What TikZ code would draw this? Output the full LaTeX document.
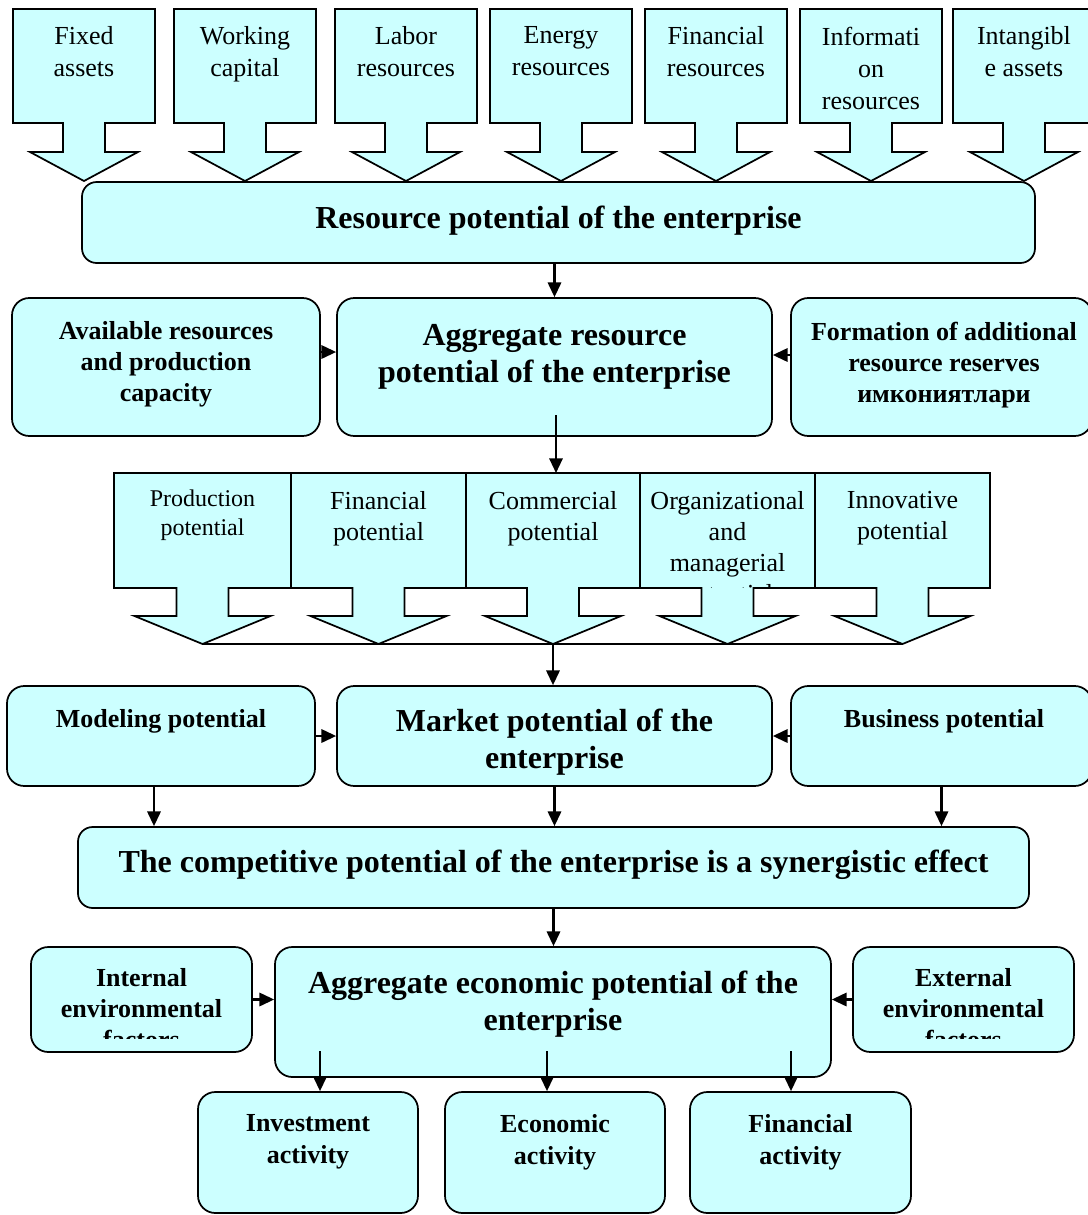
\documentclass[tikz,border=0pt]{standalone}
\usepackage{fontspec}
\setmainfont{Liberation Serif}
\usetikzlibrary{arrows.meta,calc,fit}
\definecolor{boxfill}{HTML}{CCFFFF}
% arrow-shaped text box: #1 left, #2 width, #3 top, #4 rect bottom, #5 stem half, #6 head half, #7 stem bottom, #8 tip y
\newcommand{\arrowbox}[8]{%
  \filldraw[cbox] (#1,#3) -- ({#1+#2},#3) -- ({#1+#2},#4) -- ({#1+#2/2+#5},#4) -- ({#1+#2/2+#5},#7)
    -- ({#1+#2/2+#6},#7) -- ({#1+#2/2},#8) -- ({#1+#2/2-#6},#7) -- ({#1+#2/2-#5},#7)
    -- ({#1+#2/2-#5},#4) -- (#1,#4) -- cycle;}
\tikzset{
  cbox/.style={draw=black, fill=boxfill, line width=1.3pt, line join=miter},
  rbox/.style={draw=black, fill=boxfill, line width=1.3pt, rounded corners=13pt, inner sep=0pt},
  arr/.style={line width=1.6pt, -{Triangle[length=11pt,width=10pt]}},
  ctext/.style={inner sep=0pt, anchor=north, align=center, font=\fontsize{19.5}{24}\selectfont, execute at begin node=\strut},
  ptext/.style={inner sep=0pt, anchor=north, align=center, font=\fontsize{19.5}{23.25}\selectfont, execute at begin node=\strut},
  prodtext/.style={inner sep=0pt, anchor=north, align=center, font=\fontsize{18}{21.75}\selectfont, execute at begin node=\strut},
  stext/.style={inner sep=0pt, anchor=north, align=center, font=\fontsize{19.5}{23.25}\selectfont\bfseries, execute at begin node=\strut},
  atext/.style={inner sep=0pt, anchor=north, align=center, font=\fontsize{19.5}{24.5}\selectfont\bfseries, execute at begin node=\strut},
  btext/.style={inner sep=0pt, anchor=north, align=center, font=\fontsize{24}{27.75}\selectfont\bfseries, execute at begin node=\strut}
}
\begin{document}
\begin{tikzpicture}[x=0.75pt,y=-0.75pt]
\useasboundingbox (0,0) rectangle (1088,1215);
\clip (0,0) rectangle (1088,1215);

% ---------- top resource callouts ----------
\arrowbox{13}{142}{9}{123}{21}{54}{152}{181}
\arrowbox{174}{142}{9}{123}{21}{54}{152}{181}
\arrowbox{335}{142}{9}{123}{21}{54}{152}{181}
\arrowbox{490}{142}{9}{123}{21}{54}{152}{181}
\arrowbox{645}{142}{9}{123}{21}{54}{152}{181}
\arrowbox{800}{142}{9}{123}{21}{54}{152}{181}
\arrowbox{953}{142}{9}{123}{21}{54}{152}{181}
\node[ctext] (r1) at (84,26.5) {Fixed\\assets};
\node[ctext] (r2) at (245,26.5) {Working\\capital};
\node[ctext] (r3) at (406,26.5) {Labor\\resources};
\node[ctext] (r4) at (561,26.5) {Energy\\resources};
\node[ctext] (r5) at (716,26.5) {Financial\\resources};
\node[ctext] (r6) at (871,26.5) {Informati\\on\\resources};
\node[ctext] (r7) at (1024,26.5) {Intangibl\\e assets};

% ---------- resource potential ----------
\node[rbox, rounded corners=11pt, fit={(82,182) (1035,263)}] (res) {};
\node[btext] (rest) at (558.5,202) {Resource potential of the enterprise};

% ---------- aggregate resource row ----------
\node[rbox, fit={(12,298) (320,436)}] (avail) {};
\node[rbox, fit={(337,298) (772,436)}] (aggr) {};
\node[rbox, fit={(791,298) (1092,436)}] (form) {};
\node[stext] (availt) at (166,321.5) {Available resources\\and production\\capacity};
\node[btext] (aggrt) at (554.5,324) {Aggregate resource\\potential of the enterprise};
\node[stext] (formt) at (944,321.5) {Formation of additional\\resource reserves\\имкониятлари};

\draw[arr] (res.south -| aggr.north) -- (aggr.north);
\draw[arr] ($(avail.east)+(0,-15)$) -- ($(aggr.west)+(0,-15)$);
\draw[arr] ($(form.west)+(0,-12)$) -- ($(aggr.east)+(0,-12)$);

% ---------- potentials row ----------
\arrowbox{114}{177}{473}{588}{26}{68}{616}{644}
\arrowbox{291}{175}{473}{588}{26}{68}{616}{644}
\arrowbox{466}{174}{473}{588}{26}{68}{616}{644}
\arrowbox{640}{175}{473}{588}{26}{68}{616}{644}
\arrowbox{815}{175}{473}{588}{26}{68}{616}{644}
\coordinate (p1) at (202.5,644);
\coordinate (p3) at (553,644);
\coordinate (p5) at (902.5,644);
\node[prodtext] (pt1) at (202.5,489.5) {Production\\potential};
\node[ptext] (pt2) at (378.5,491.5) {Financial\\potential};
\node[ptext] (pt3) at (553,491.5) {Commercial\\potential};
\begin{scope}
\clip (640,473) rectangle (815,587);
\node[ptext] (pt4) at (727.5,491.5) {Organizational\\and\\managerial\\potential};
\end{scope}
\node[ptext] (pt5) at (902.5,491.5) {Innovative\\potential};

\coordinate (a1) at (556,415);
\coordinate (a2) at (556,473);
\draw[arr] (a1) -- (a2);
\draw[line width=1.3pt] (p1) -- (p5);

% ---------- market row ----------
\node[rbox, fit={(7,686) (315,786)}] (model) {};
\node[rbox, fit={(337,686) (772,786)}] (market) {};
\node[rbox, fit={(791,686) (1092,786)}] (bus) {};
\node[stext] (modelt) at (161,705.5) {Modeling potential};
\node[btext] (markett) at (554.5,709) {Market potential of the\\enterprise};
\node[stext] (bust) at (944,705.5) {Business potential};

\draw[arr] (p3) -- (p3 |- market.north);
\draw[arr] (model.east) -- (market.west);
\draw[arr] (bus.west) -- (market.east);

% ---------- competitive ----------
\node[rbox, rounded corners=11pt, fit={(78,827) (1029,908)}] (comp) {};
\node[btext] (compt) at (553.5,846) {The competitive potential of the enterprise is a synergistic effect};

\coordinate (m1) at ($(model.south)+(-7,0)$);
\draw[arr] (m1) -- (m1 |- comp.north);
\draw[arr] (market.south) -- (market.south |- comp.north);
\draw[arr] (bus.south) -- (bus.south |- comp.north);

% ---------- aggregate economic ----------
\node[rbox, fit={(31,947) (252,1052)}] (intf) {};
\node[rbox, fit={(275,947) (831,1077)}] (aggec) {};
\node[rbox, fit={(853,947) (1074,1052)}] (extf) {};
\begin{scope}
\clip (31,947) rectangle (252,1038);
\node[stext] (intft) at (141.5,968.5) {Internal\\environmental\\factors};
\end{scope}
\begin{scope}
\clip (853,947) rectangle (1074,1038);
\node[stext] (extft) at (963.5,968.5) {External\\environmental\\factors};
\end{scope}
\node[btext] (aggect) at (553,971) {Aggregate economic potential of the\\enterprise};

\draw[arr] (comp.south) -- (comp.south |- aggec.north);
\draw[arr] (intf.east) -- (intf.east -| aggec.west);
\draw[arr] (extf.west) -- (extf.west -| aggec.east);

% ---------- activities ----------
\node[rbox, fit={(198,1092) (418,1213)}] (inv) {};
\node[rbox, fit={(445,1092) (665,1213)}] (eco) {};
\node[rbox, fit={(690,1092) (911,1213)}] (fin) {};
\node[atext] (invt) at (308,1114) {Investment\\activity};
\node[atext] (ecot) at (555,1114) {Economic\\activity};
\node[atext] (fint) at (800.5,1114) {Financial\\activity};

\coordinate (e1) at (320,1051);
\coordinate (e2) at (547,1051);
\coordinate (e3) at (791,1051);
\draw[arr] (e1) -- (e1 |- inv.north);
\draw[arr] (e2) -- (e2 |- eco.north);
\draw[arr] (e3) -- (e3 |- fin.north);
\end{tikzpicture}
\end{document}
